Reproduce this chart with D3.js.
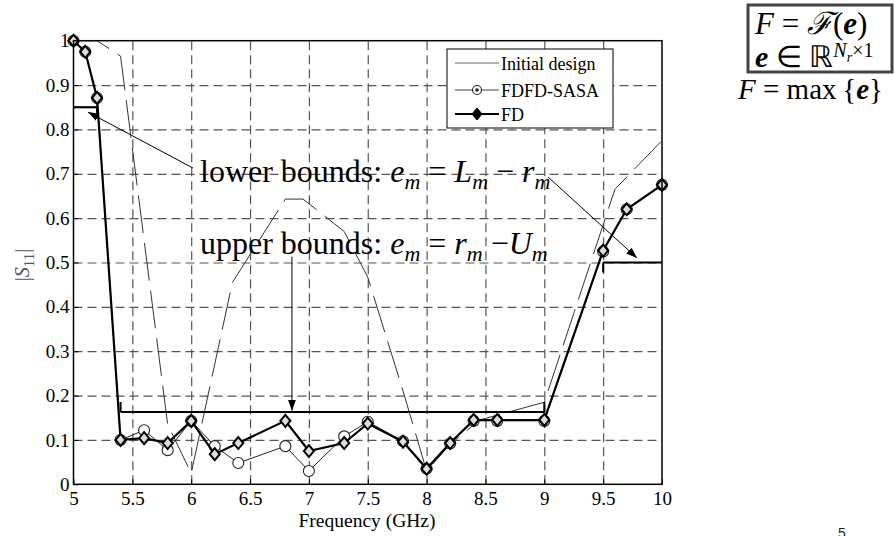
<!DOCTYPE html>
<html lang="en">
<head>
<meta charset="UTF-8" />
<title>S11 response</title>
<script src="https://d3js.org/d3.v7.min.js"></script>
<style>
  body { margin: 0; background: #fff; }
  text { font-family: "Liberation Serif", "Times New Roman", serif; }
  .grid line { stroke: #555; stroke-dasharray: 9,5; stroke-width: 1.2; }
  .grid .domain { display: none; }
  .axis .domain { display: none; }
  .axis line { stroke: #000; }
</style>
</head>
<body>
<svg id="chart" width="895" height="536"></svg>
<script>
// values
const xTicks = [5, 5.5, 6, 6.5, 7, 7.5, 8, 8.5, 9, 9.5, 10];
const yTicks = [0, 0.1, 0.2, 0.3, 0.4, 0.5, 0.6, 0.7, 0.8, 0.9, 1];

const initFreq = [5.0, 5.2, 5.4, 5.8, 6.0, 6.35, 6.8, 6.95, 7.3, 7.5, 7.8, 8.0, 8.2, 8.45, 9.0, 9.6, 10];
const initVal  = [1.0, 1.0, 0.965, 0.135, 0.025, 0.455, 0.643, 0.643, 0.57, 0.467, 0.21, 0.03, 0.09, 0.145, 0.185, 0.665, 0.775];

const optFreq = [5.0, 5.1, 5.2, 5.4, 5.6, 5.8, 6.0, 6.2, 6.4, 6.8, 7.0, 7.3, 7.5, 7.8, 8.0, 8.2, 8.4, 8.6, 9.0, 9.5, 9.7, 10];
const sasaVal = [1.0, 0.975, 0.871, 0.10, 0.122, 0.077, 0.143, 0.086, 0.048, 0.086, 0.03, 0.108, 0.141, 0.097, 0.035, 0.092, 0.143, 0.143, 0.143, 0.525, 0.62, 0.675];
const fdVal   = [1.0, 0.975, 0.871, 0.10, 0.104, 0.093, 0.143, 0.068, 0.093, 0.143, 0.075, 0.093, 0.137, 0.096, 0.035, 0.093, 0.145, 0.145, 0.145, 0.527, 0.62, 0.675];

// spec bounds [f1, f2, level]
const lowerBounds = [[5.0, 5.2, 0.85], [9.5, 10, 0.5]];
const upperBounds = [[5.4, 9.0, 0.163]];

// annotation arrows [fromF, fromV, toF, toV]
const arrows = [
  [6.015, 0.713, 5.123, 0.839],
  [9.031, 0.693, 9.788, 0.51],
  [6.856, 0.513, 6.856, 0.166]
];

const svg = d3.select("#chart");
const margin = {top: 40.7, left: 73.5};
const W = 588.5, H = 443.6;

const defs = svg.append("defs");
defs.append("marker").attr("id", "arr")
  .attr("viewBox", "0 0 11 8").attr("refX", 11).attr("refY", 4)
  .attr("markerWidth", 11).attr("markerHeight", 8)
  .attr("markerUnits", "userSpaceOnUse").attr("orient", "auto")
  .append("path").attr("d", "M0,0 L11,4 L0,8 Z").attr("fill", "#000");

const g = svg.append("g").attr("transform", `translate(${margin.left},${margin.top})`);

const x = d3.scaleLinear().domain([5, 10]).range([0, W]);
const y = d3.scaleLinear().domain([0, 1]).range([H, 0]);

// grid
g.append("g").attr("class", "grid")
  .attr("transform", `translate(0,${H})`)
  .call(d3.axisBottom(x).tickValues(xTicks.slice(1, -1)).tickSize(-H).tickFormat(""));
g.append("g").attr("class", "grid")
  .call(d3.axisLeft(y).tickValues(yTicks.slice(1, -1)).tickSize(-W).tickFormat(""));

// axes
const xAxis = g.append("g").attr("class", "axis")
  .attr("transform", `translate(0,${H})`)
  .call(d3.axisBottom(x).tickValues(xTicks).tickSizeInner(-5).tickSizeOuter(0).tickPadding(7).tickFormat(d => d));
xAxis.selectAll("text").style("font-size", "19px").attr("fill", "#000");
const yAxis = g.append("g").attr("class", "axis")
  .call(d3.axisLeft(y).tickValues(yTicks).tickSizeInner(-5).tickSizeOuter(0).tickPadding(4).tickFormat(d => d));
yAxis.selectAll("text").style("font-size", "19px").attr("fill", "#000");

// initial design
const initData = initFreq.map((f, i) => ({f: f, v: initVal[i]}));
const line = d3.line().x(d => x(d.f)).y(d => y(d.v));
g.append("path").datum(initData)
  .attr("d", line).attr("fill", "none")
  .attr("stroke", "#333").attr("stroke-width", 1)
  .attr("stroke-dasharray", "38,10");

// bounds
lowerBounds.forEach(b => {
  g.append("line").attr("x1", x(b[0])).attr("x2", x(b[1]))
    .attr("y1", y(b[2])).attr("y2", y(b[2]))
    .attr("stroke", "#000").attr("stroke-width", 2.2);
  const tx = b[0] === 5 ? x(b[1]) : x(b[0]);
  g.append("line").attr("x1", tx).attr("x2", tx)
    .attr("y1", y(b[2])).attr("y2", y(b[2]) + 10)
    .attr("stroke", "#000").attr("stroke-width", 2);
});
upperBounds.forEach(b => {
  g.append("line").attr("x1", x(b[0])).attr("x2", x(b[1]))
    .attr("y1", y(b[2])).attr("y2", y(b[2]))
    .attr("stroke", "#000").attr("stroke-width", 2.2);
  [b[0], b[1]].forEach(f => {
    g.append("line").attr("x1", x(f)).attr("x2", x(f))
      .attr("y1", y(b[2])).attr("y2", y(b[2]) - 10)
      .attr("stroke", "#000").attr("stroke-width", 2);
  });
});

// FDFD-SASA
const sasaData = optFreq.map((f, i) => ({f: f, v: sasaVal[i]}));
g.append("path").datum(sasaData)
  .attr("d", line).attr("fill", "none")
  .attr("stroke", "#222").attr("stroke-width", 1);
g.selectAll("circle.sasa").data(sasaData).join("circle")
  .attr("class", "sasa")
  .attr("cx", d => x(d.f)).attr("cy", d => y(d.v)).attr("r", 5.5)
  .attr("fill", "#fff").attr("stroke", "#222").attr("stroke-width", 1.1);

// FD
const fdData = optFreq.map((f, i) => ({f: f, v: fdVal[i]}));
g.append("path").datum(fdData)
  .attr("d", line).attr("fill", "none")
  .attr("stroke", "#000").attr("stroke-width", 2.2);

const diamond = "M0,-6 L5,0 L0,6 L-5,0 Z";
g.selectAll("path.fd").data(fdData).join("path")
  .attr("class", "fd")
  .attr("d", diamond)
  .attr("transform", d => `translate(${x(d.f)},${y(d.v)})`)
  .attr("fill", "#ddd").attr("stroke", "#000").attr("stroke-width", 2);

// arrows
arrows.forEach(a => {
  g.append("line")
    .attr("x1", x(a[0])).attr("y1", y(a[1]))
    .attr("x2", x(a[2])).attr("y2", y(a[3]))
    .attr("stroke", "#000").attr("stroke-width", 1)
    .attr("marker-end", "url(#arr)");
});

// box
g.append("rect").attr("width", W).attr("height", H)
  .attr("fill", "none").attr("stroke", "#000").attr("stroke-width", 1.5);

// legend
const leg = svg.append("g");
leg.append("rect").attr("x", 447).attr("y", 49).attr("width", 166).attr("height", 79)
  .attr("fill", "#fff").attr("stroke", "#000").attr("stroke-width", 1);
const rowsY = [63, 90, 114];
leg.append("line").attr("x1", 455).attr("x2", 499).attr("y1", rowsY[0]).attr("y2", rowsY[0])
  .attr("stroke", "#666").attr("stroke-width", 1);
leg.append("line").attr("x1", 455).attr("x2", 499).attr("y1", rowsY[1]).attr("y2", rowsY[1])
  .attr("stroke", "#444").attr("stroke-width", 1.2);
leg.append("circle").attr("cx", 477).attr("cy", rowsY[1]).attr("r", 4.5)
  .attr("fill", "#fff").attr("stroke", "#222").attr("stroke-width", 1.1);
leg.append("circle").attr("cx", 477).attr("cy", rowsY[1]).attr("r", 1.8).attr("fill", "#222");
leg.append("line").attr("x1", 455).attr("x2", 499).attr("y1", rowsY[2]).attr("y2", rowsY[2])
  .attr("stroke", "#000").attr("stroke-width", 2.2);
leg.append("path").attr("d", diamond).attr("transform", `translate(477,${rowsY[2]})`)
  .attr("fill", "#000").attr("stroke", "#000").attr("stroke-width", 1);
["Initial design", "FDFD-SASA", "FD"].forEach((t, i) => {
  leg.append("text").attr("x", 501).attr("y", rowsY[i] + 7)
    .style("font-size", "18px").text(t);
});

// axis titles
svg.append("text").attr("x", 367).attr("y", 527).attr("text-anchor", "middle")
  .style("font-size", "19.5px").text("Frequency (GHz)");
const yl = svg.append("text").attr("transform", "translate(29,265) rotate(-90)")
  .attr("text-anchor", "middle").attr("fill", "#555").style("font-size", "20px");
yl.append("tspan").text("|");
yl.append("tspan").attr("font-style", "italic").text("S");
yl.append("tspan").attr("dy", 5).style("font-size", "15px").text("11");
yl.append("tspan").attr("dy", -5).text("|");

// annotations
function boundText(yPos, label, parts) {
  const t = svg.append("text").attr("x", 200).attr("y", yPos).style("font-size", "32px");
  t.append("tspan").text(label);
  parts.forEach(p => {
    const s = t.append("tspan").text(p.t);
    if (p.i) s.attr("font-style", "italic");
    if (p.sub) s.attr("dy", 7).style("font-size", "22px");
    if (p.up) s.attr("dy", -7);
  });
}
boundText(182, "lower bounds: ", [
  {t: "e", i: 1}, {t: "m", i: 1, sub: 1}, {t: " = ", up: 1},
  {t: "L", i: 1}, {t: "m", i: 1, sub: 1}, {t: " \u2212 ", up: 1},
  {t: "r", i: 1}, {t: "m", i: 1, sub: 1}
]);
boundText(254, "upper bounds: ", [
  {t: "e", i: 1}, {t: "m", i: 1, sub: 1}, {t: " = ", up: 1},
  {t: "r", i: 1}, {t: "m", i: 1, sub: 1}, {t: " \u2212", up: 1},
  {t: "U", i: 1}, {t: "m", i: 1, sub: 1}
]);

// formulas on the right
svg.append("rect").attr("x", 748).attr("y", 5).attr("width", 144).attr("height", 67)
  .attr("fill", "none").attr("stroke", "#444").attr("stroke-width", 3);
const f1 = svg.append("text").attr("x", 755).attr("y", 34).style("font-size", "31px");
f1.append("tspan").attr("font-style", "italic").text("F");
f1.append("tspan").text(" = ");
f1.append("tspan").attr("font-style", "italic").text("\u2131");
f1.append("tspan").text("(");
f1.append("tspan").attr("font-style", "italic").attr("font-weight", "bold").text("e");
f1.append("tspan").text(")");
const f2 = svg.append("text").attr("x", 755).attr("y", 67).style("font-size", "30px");
f2.append("tspan").attr("font-style", "italic").attr("font-weight", "bold").text("e");
f2.append("tspan").text(" \u2208 ");
f2.append("tspan").text("\u211D");
f2.append("tspan").attr("dy", -10).attr("font-style", "italic").style("font-size", "20px").text("N");
f2.append("tspan").attr("dy", 5).attr("font-style", "italic").style("font-size", "14px").text("r");
f2.append("tspan").attr("dy", -5).style("font-size", "20px").text("\u00D71");
const f3 = svg.append("text").attr("x", 738).attr("y", 99).style("font-size", "29px");
f3.append("tspan").attr("font-style", "italic").text("F");
f3.append("tspan").text(" = max\u2009{");
f3.append("tspan").attr("font-style", "italic").attr("font-weight", "bold").text("e");
f3.append("tspan").text("}");

// slide number
svg.append("text").attr("x", 838).attr("y", 538)
  .style("font-family", "'Liberation Sans', Arial, sans-serif").style("font-size", "14px")
  .attr("fill", "#222").text("5");
</script>
</body>
</html>
